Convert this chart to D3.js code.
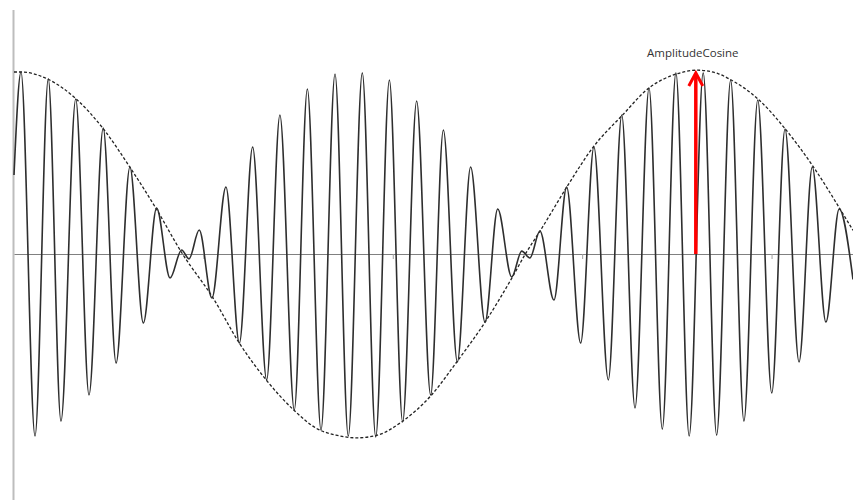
<!DOCTYPE html>
<html>
<head>
<meta charset="utf-8">
<script src="https://cdn.jsdelivr.net/npm/d3@7"></script>
<style>
    html, body { margin: 0; padding: 0; background: #fff; }
    #chart { width: 853px; height: 500px; }
</style>
</head>
<body>
<div id="chart"></div>
<script>
// Amplitude-modulated wave with its cosine envelope
const width = 853;
const height = 500;

// Wave: successive extrema (plus start / end)
const waveTimes = [
    0.000, 0.037, 0.111, 0.181, 0.248, 0.326, 0.396, 0.471, 0.539, 0.612,
    0.683, 0.753, 0.824, 0.885, 0.924, 0.978, 1.045, 1.119, 1.190, 1.260,
    1.334, 1.404, 1.480, 1.549, 1.621, 1.695, 1.765, 1.839, 1.910, 1.982,
    2.052, 2.126, 2.200, 2.267, 2.341, 2.411, 2.487, 2.554, 2.628, 2.681,
    2.724, 2.777, 2.851, 2.918, 2.992, 3.062, 3.138, 3.209, 3.279, 3.353,
    3.423, 3.495, 3.565, 3.639, 3.710, 3.784, 3.854, 3.927, 4.001, 4.071,
    4.145, 4.215, 4.287, 4.357, 4.430
];
const waveValues = [
    0.434, 1.000, -1.000, 0.962, -0.918, 0.852, -0.775, 0.692, -0.599, 0.478,
    -0.379, 0.253, -0.132, 0.022, -0.027, 0.132, -0.242, 0.368, -0.489, 0.588,
    -0.692, 0.764, -0.857, 0.907, -0.967, 0.989, -1.000, 0.995, -1.005, 0.956,
    -0.923, 0.841, -0.775, 0.681, -0.593, 0.478, -0.374, 0.247, -0.126, 0.016,
    -0.022, 0.126, -0.253, 0.368, -0.489, 0.588, -0.692, 0.764, -0.846, 0.912,
    -0.962, 0.995, -1.000, 0.995, -0.995, 0.956, -0.918, 0.846, -0.764, 0.687,
    -0.593, 0.478, -0.374, 0.247, -0.140
];

// Dashed cosine envelope
const envelopeTimes = [
    0.00, 0.04, 0.18, 0.33, 0.47, 0.61, 0.75, 0.89, 1.05, 1.19,
    1.33, 1.48, 1.60, 1.70, 1.81, 1.92, 2.05, 2.20, 2.34, 2.49,
    2.63, 2.70, 2.78, 2.92, 3.06, 3.21, 3.35, 3.50, 3.61, 3.72,
    3.78, 3.93, 4.07, 4.22, 4.36, 4.43
];
const envelopeValues = [
    1.00, 1.00, 0.96, 0.85, 0.69, 0.48, 0.25, 0.00, -0.24, -0.49,
    -0.69, -0.86, -0.96, -0.995, -1.01, -0.995, -0.92, -0.78, -0.59, -0.37,
    -0.13, 0.00, 0.13, 0.37, 0.59, 0.76, 0.91, 0.99, 1.01, 0.99,
    0.96, 0.85, 0.69, 0.48, 0.25, 0.13
];

const xTicks = [1, 2, 3, 4];

// Annotation arrow
const arrowTime = 3.6;
const arrowFrom = 0;
const arrowTo = 1;
const arrowLabel = 'AmplitudeCosine';

const svg = d3.select('#chart')
    .append('svg')
    .attr('width', width)
    .attr('height', height);

const x = d3.scaleLinear().domain([0, 4.43]).range([14, 853]);
const y = d3.scaleLinear().domain([-1, 1]).range([436, 72]);

// Vertical axis line (no ticks)
svg.append('line')
    .attr('x1', x(0) - 0.5)
    .attr('x2', x(0) - 0.5)
    .attr('y1', 10)
    .attr('y2', height)
    .attr('stroke', '#bdbdbd')
    .attr('stroke-width', 2);

// Horizontal axis through zero
const xAxis = svg.append('g')
    .attr('transform', `translate(0,${y(0)})`)
    .call(d3.axisBottom(x).tickValues(xTicks).tickFormat('').tickSize(5).tickSizeOuter(0));
xAxis.select('.domain').attr('stroke', '#808080').attr('stroke-width', 1);
xAxis.selectAll('.tick line').attr('stroke', '#a0a0a0');

// Envelope
const envelope = envelopeTimes.map((t, i) => ({ t, v: envelopeValues[i] }));
svg.append('path')
    .datum(envelope)
    .attr('fill', 'none')
    .attr('stroke', '#222')
    .attr('stroke-width', 1.3)
    .attr('stroke-dasharray', '3,2')
    .attr('d', d3.line().x(d => x(d.t)).y(d => y(d.v)).curve(d3.curveMonotoneX));

// Modulated wave
const wave = waveTimes.map((t, i) => ({ t, v: waveValues[i] }));
svg.append('path')
    .datum(wave)
    .attr('fill', 'none')
    .attr('stroke', '#2e2e2e')
    .attr('stroke-width', 1.6)
    .attr('d', d3.line().x(d => x(d.t)).y(d => y(d.v)).curve(d3.curveMonotoneX));

// Red arrow
const ax = x(arrowTime);
svg.append('line')
    .attr('x1', ax)
    .attr('x2', ax)
    .attr('y1', y(arrowFrom))
    .attr('y2', y(arrowTo) + 3)
    .attr('stroke', '#f00')
    .attr('stroke-width', 3.5);
svg.append('path')
    .attr('d', `M${ax - 7},${y(arrowTo) + 14}L${ax},${y(arrowTo) + 1}L${ax + 7},${y(arrowTo) + 14}`)
    .attr('fill', 'none')
    .attr('stroke', '#f00')
    .attr('stroke-width', 3);

svg.append('text')
    .attr('x', ax - 3)
    .attr('y', y(arrowTo) - 15)
    .attr('text-anchor', 'middle')
    .attr('font-family', 'Open Sans, sans-serif')
    .attr('font-size', '11.5px')
    .attr('fill', '#333')
    .text(arrowLabel);
</script>
</body>
</html>
